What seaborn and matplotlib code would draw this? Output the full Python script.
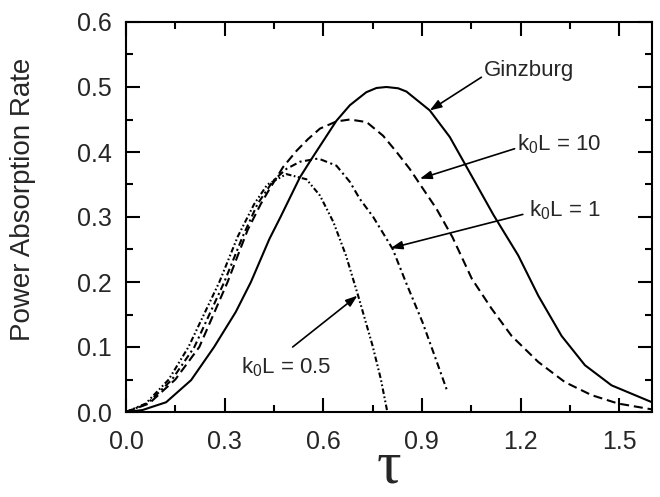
import numpy as np
import pandas as pd
import matplotlib
matplotlib.use('Agg')
import matplotlib.pyplot as plt
import seaborn as sns
from matplotlib.ticker import MultipleLocator, FormatStrFormatter

# values
tau_ginzburg = [0.0, 0.05, 0.122, 0.198, 0.268, 0.334, 0.38, 0.436, 0.47, 0.529, 0.564, 0.64,
                0.681, 0.731, 0.762, 0.792, 0.828, 0.853, 0.924, 0.985, 1.056, 1.118, 1.193,
                1.254, 1.325, 1.396, 1.477, 1.6]
rate_ginzburg = [0.0, 0.003, 0.015, 0.049, 0.1, 0.154, 0.2, 0.266, 0.30, 0.361, 0.389, 0.448,
                 0.472, 0.492, 0.4985, 0.50, 0.498, 0.493, 0.464, 0.423, 0.359, 0.303, 0.241,
                 0.179, 0.117, 0.072, 0.041, 0.015]

tau_k10 = [0.0, 0.07, 0.15, 0.223, 0.309, 0.37, 0.41, 0.433, 0.478, 0.519, 0.554, 0.59, 0.64,
           0.681, 0.732, 0.782, 0.823, 0.863, 0.904, 0.944, 0.993, 1.052, 1.112, 1.173, 1.254,
           1.335, 1.416, 1.497, 1.6]
rate_k10 = [0.0, 0.013, 0.05, 0.1, 0.2, 0.28, 0.32, 0.34, 0.377, 0.402, 0.42, 0.436, 0.447,
            0.45, 0.446, 0.425, 0.40, 0.374, 0.343, 0.313, 0.269, 0.205, 0.159, 0.117, 0.077,
            0.046, 0.026, 0.013, 0.004]

tau_k1 = [0.0, 0.065, 0.14, 0.208, 0.299, 0.355, 0.40, 0.448, 0.488, 0.529, 0.585, 0.64, 0.681,
          0.711, 0.752, 0.811, 0.851, 0.902, 0.942, 0.978]
rate_k1 = [0.0, 0.013, 0.05, 0.1, 0.2, 0.27, 0.32, 0.356, 0.374, 0.385, 0.39, 0.379, 0.354,
           0.328, 0.30, 0.251, 0.2, 0.138, 0.082, 0.031]

tau_k05 = [0.0, 0.06, 0.13, 0.19, 0.284, 0.34, 0.39, 0.43, 0.488, 0.549, 0.59, 0.631, 0.669,
           0.709, 0.75, 0.775, 0.795]
rate_k05 = [0.0, 0.013, 0.05, 0.1, 0.2, 0.27, 0.32, 0.35, 0.366, 0.358, 0.333, 0.292, 0.241,
            0.174, 0.102, 0.051, 0.0]

series = {'Ginzburg': (tau_ginzburg, rate_ginzburg),
          'k10': (tau_k10, rate_k10),
          'k1': (tau_k1, rate_k1),
          'k05': (tau_k05, rate_k05)}
df = pd.concat([pd.DataFrame({'tau': t, 'rate': r, 'model': name})
                for name, (t, r) in series.items()], ignore_index=True)

sns.set_style('ticks')
plt.rcParams['font.family'] = ['Liberation Sans', 'DejaVu Sans']
plt.rcParams['mathtext.default'] = 'regular'
plt.rcParams['lines.scale_dashes'] = False

fig = plt.figure(figsize=(6.6, 4.97), dpi=100)
ax = fig.add_axes([126 / 660, 1 - 412 / 497, 526 / 660, 390 / 497])

dashes = {'Ginzburg': '', 'k10': (6.5, 3.5), 'k1': (5, 2.5, 1.5, 2.5),
          'k05': (4, 1.8, 1.2, 1.8, 1.2, 1.8)}
sns.lineplot(data=df, x='tau', y='rate', style='model', dashes=dashes, color='black',
             linewidth=1.5, estimator=None, sort=False, legend=False, ax=ax)

ax.set_xlim(0, 1.6)
ax.set_ylim(0, 0.6)
ax.xaxis.set_major_locator(MultipleLocator(0.3))
ax.xaxis.set_minor_locator(MultipleLocator(0.15))
ax.yaxis.set_major_locator(MultipleLocator(0.1))
ax.yaxis.set_minor_locator(MultipleLocator(0.05))
ax.xaxis.set_major_formatter(FormatStrFormatter('%.1f'))
ax.yaxis.set_major_formatter(FormatStrFormatter('%.1f'))
ax.tick_params(which='both', direction='in', top=True, right=True, width=1.5, color='black')
ax.tick_params(which='major', length=10, labelsize=18)
ax.tick_params(which='minor', length=5)
ax.tick_params(axis='x', which='major', pad=13)
ax.tick_params(axis='y', which='major', pad=10)
for sp in ax.spines.values():
    sp.set_linewidth(1.5)
    sp.set_color('black')

ax.set_ylabel('Power Absorption Rate', fontsize=20)
ax.yaxis.set_label_coords(-0.172, 0.545)
ax.set_xlabel(r'$\tau$', fontsize=44, family=['Liberation Serif', 'DejaVu Serif'],
              va='bottom')
ax.xaxis.set_label_coords(0.5, -0.213)

arrow = dict(arrowstyle='-|>,head_length=0.7,head_width=0.25', color='black', lw=1.2,
             shrinkA=0, shrinkB=0)
notes = [('Ginzburg', (1.088, 0.526), (1.081, 0.515), (0.924, 0.464)),
         ('$k_0L$ = 10', (1.19, 0.412), (1.182, 0.405), (0.894, 0.359)),
         ('$k_0L$ = 1', (1.226, 0.31), (1.207, 0.304), (0.805, 0.252)),
         ('$k_0L$ = 0.5', (0.35, 0.069), (0.507, 0.10), (0.704, 0.179))]
for label, txt, start, tip in notes:
    ax.annotate('', xy=tip, xytext=start, arrowprops=arrow)
    ax.text(txt[0], txt[1], label, fontsize=16, ha='left', va='center')

fig.savefig('out.png', dpi=100)
